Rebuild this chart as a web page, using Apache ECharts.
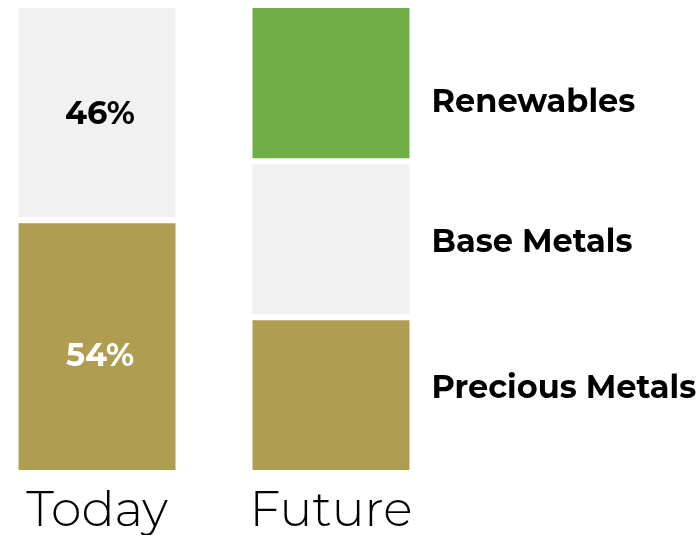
<!DOCTYPE html>
<html>
<head>
<meta charset="utf-8">
<script src="https://cdn.jsdelivr.net/npm/echarts@6/dist/echarts.min.js"></script>
<style>
  html, body { margin: 0; padding: 0; background: #fff; }
  #chart { width: 699px; height: 535px; }
</style>
</head>
<body>
<div id="chart"></div>
<script>
// data
const categories = ['Today', 'Future']
const preciousMetals = [54, 33.3]
const baseMetals = [46, 33.3]
const renewables = [0, 33.4]
// vertical nudge of the labels
const todayLabelOffset = { 'Precious Metals': 10, 'Base Metals': 2 }
const sideLabelOffset = { 'Precious Metals': -6, 'Base Metals': 3, 'Renewables': 19 }

const FONT = 'Montserrat, "DejaVu Sans", sans-serif'
const GOLD = '#af9e52'
const GREY = '#f1f1f1'
const GREEN = '#70ae48'

const chart = echarts.init(document.getElementById('chart'))

function buildData(name, values, todayColor) {
  return values.map((v, i) => {
    if (i === 0) {
      return {
        value: v || null,
        label: {
          show: !!v,
          position: 'inside',
          offset: [3, todayLabelOffset[name] || 0],
          formatter: '{c}%',
          color: todayColor,
          fontFamily: FONT,
          fontWeight: 'bold',
          fontSize: 32
        }
      }
    }
    return {
      value: v,
      label: {
        show: true,
        position: 'right',
        distance: 19,
        offset: [0, sideLabelOffset[name]],
        formatter: '{a}',
        color: '#000',
        fontFamily: FONT,
        fontWeight: 'bold',
        fontSize: 32
      }
    }
  })
}

function makeSeries(name, values, color, todayColor) {
  return {
    name: name,
    type: 'bar',
    stack: 'total',
    barWidth: 163,
    itemStyle: { color: color, borderColor: '#fff', borderWidth: 3 },
    data: buildData(name, values, todayColor)
  }
}

chart.setOption({
  animation: false,
  grid: { left: -20, top: 5, width: 468, bottom: 62, containLabel: false, outerBoundsMode: 'none' },
  xAxis: {
    type: 'category',
    data: categories,
    axisLine: { show: false },
    axisTick: { show: false },
    axisLabel: {
      color: '#000',
      fontFamily: FONT,
      fontWeight: 300,
      fontSize: 49,
      margin: 14
    }
  },
  yAxis: {
    type: 'value',
    min: 0,
    max: 100,
    show: false
  },
  series: [
    makeSeries('Precious Metals', preciousMetals, GOLD, '#fff'),
    makeSeries('Base Metals', baseMetals, GREY, '#000'),
    makeSeries('Renewables', renewables, GREEN, '#000')
  ]
})
</script>
</body>
</html>
